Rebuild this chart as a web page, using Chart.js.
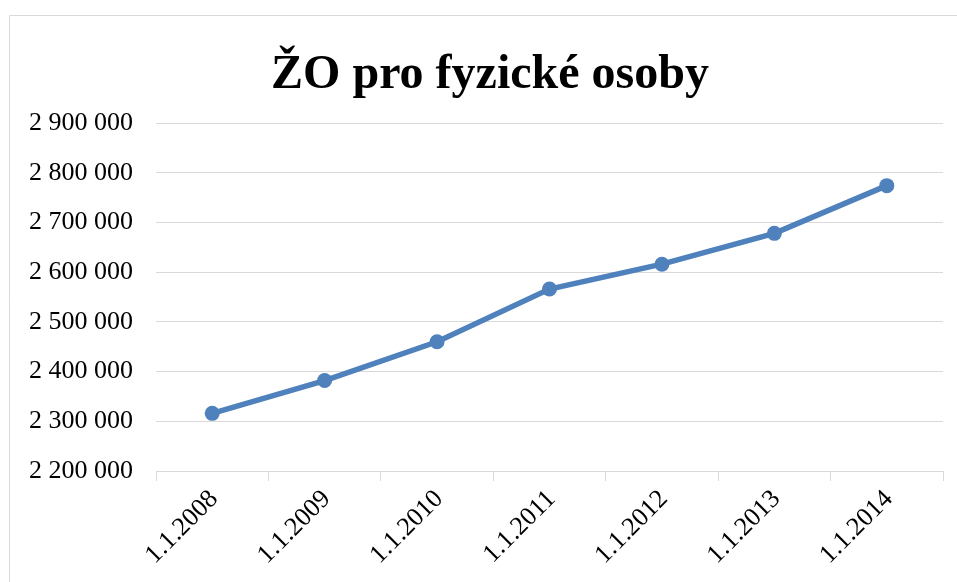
<!DOCTYPE html>
<html>
<head>
<meta charset="utf-8">
<script src="https://cdn.jsdelivr.net/npm/chart.js@4/dist/chart.umd.min.js"></script>
<style>
  html, body { margin: 0; padding: 0; background: #fff; }
  #wrap { position: relative; width: 957px; height: 582px; }
</style>
</head>
<body>
<div id="wrap"><canvas id="chartZO"></canvas></div>
<script>
const labels = ["1.1.2008", "1.1.2009", "1.1.2010", "1.1.2011", "1.1.2012", "1.1.2013", "1.1.2014"];
const values = [2316000, 2382000, 2460000, 2566000, 2616000, 2678000, 2774000];
const yMin = 2200000;
const yMax = 2900000;
const yStep = 100000;
const chartTitle = "ŽO pro fyzické osoby";

const serif = "'Liberation Serif', 'Times New Roman', serif";

function formatThousands(v) {
  return String(Math.round(v)).replace(/\B(?=(\d{3})+(?!\d))/g, " ");
}

// light grey frame like the Excel chart border, plus the title centred on it
const framePlugin = {
  id: "frame",
  beforeDraw(chart) {
    const ctx = chart.ctx;
    ctx.save();
    ctx.strokeStyle = "#d9d9d9";
    ctx.lineWidth = 1;
    ctx.beginPath();
    ctx.moveTo(9.5, chart.height);
    ctx.lineTo(9.5, 15.5);
    ctx.lineTo(chart.width, 15.5);
    ctx.stroke();

    ctx.fillStyle = "#000";
    ctx.font = "bold 48px " + serif;
    ctx.textAlign = "center";
    ctx.textBaseline = "alphabetic";
    ctx.fillText(chartTitle, 490, 88);
    ctx.restore();
  }
};

const canvas = document.getElementById("chartZO");

new Chart(canvas, {
  type: "line",
  data: {
    labels,
    datasets: [
      {
        label: chartTitle,
        data: values,
        borderColor: "#4f81bd",
        backgroundColor: "#4f81bd",
        borderWidth: 5.5,
        pointRadius: 7.5,
        pointHoverRadius: 7.5,
        pointBorderWidth: 0,
        tension: 0
      }
    ]
  },
  options: {
    responsive: true,
    maintainAspectRatio: false,
    animation: false,
    layout: {
      padding: { top: 123, left: 9, right: 14, bottom: 0 }
    },
    plugins: {
      legend: { display: false },
      tooltip: { enabled: false },
      title: { display: false }
    },
    scales: {
      x: {
        offset: true,
        grid: {
          offset: true,
          drawOnChartArea: false,
          drawTicks: true,
          tickLength: 10,
          color: "#d9d9d9"
        },
        border: { display: true, color: "#d9d9d9", width: 1 },
        ticks: {
          color: "#000",
          font: { family: serif, size: 26 },
          minRotation: 45,
          maxRotation: 45,
          labelOffset: 2,
          padding: 3
        },
        afterFit(scale) {
          scale.height = 111;
        }
      },
      y: {
        min: yMin,
        max: yMax,
        grid: {
          color: "#d9d9d9",
          lineWidth: 1,
          drawTicks: false
        },
        border: { display: false },
        ticks: {
          stepSize: yStep,
          color: "#000",
          font: { family: serif, size: 26 },
          padding: 23,
          callback: (v) => formatThousands(v)
        },
        afterFit(scale) {
          scale.width = 147;
        }
      }
    }
  },
  plugins: [framePlugin]
});
</script>
</body>
</html>
